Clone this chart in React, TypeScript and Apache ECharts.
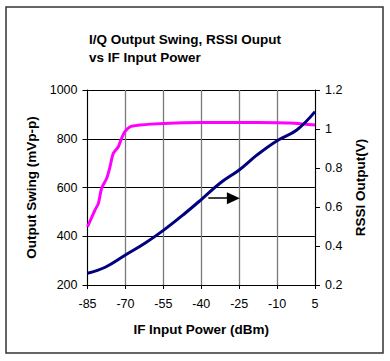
import React, { useEffect, useRef } from "react";
import * as echarts from "echarts";

const TITLE = "I/Q Output Swing, RSSI Ouput\nvs IF Input Power";
const X_NAME = "IF Input Power (dBm)";
const Y_LEFT_NAME = "Output Swing (mVp-p)";
const Y_RIGHT_NAME = "RSSI Output(V)";

const X_MIN = -85;
const X_MAX = 5;
const X_STEP = 15;

const swingX = [-85, -82, -80.7, -79.4, -77.4, -76.1, -74.8, -72.8, -71.5, -70.2, -68.2, -64.2, -60, -50, -40, -25, -10, -5, 0, 5];
const swingY = [439, 508, 535, 597, 638, 685, 740, 767, 802, 829, 849, 856, 860, 865, 867, 867, 866, 865, 861, 856];

const rssiX = [-85, -78, -70, -62.3, -55, -46.4, -40, -32.6, -25, -17.9, -10, -2.2, 5];
const rssiY = [0.26, 0.291, 0.354, 0.414, 0.48, 0.568, 0.638, 0.722, 0.79, 0.867, 0.94, 0.995, 1.089];

const arrowFrom = [-37.2, 0.645];
const arrowTo = [-27.3, 0.645];

const FONT = "'Liberation Sans', Arial, sans-serif";

export default function App() {
  const ref = useRef<HTMLDivElement>(null);
  useEffect(() => {
    document.body.style.margin = "0";
    const chart = echarts.init(ref.current!, null, { renderer: "svg" });
    const shift = (x: number) => x - X_MIN;
    chart.setOption({
      animation: false,
      backgroundColor: "#fff",
      textStyle: { fontFamily: FONT },
      title: {
        text: TITLE,
        left: 84,
        top: 25,
        textStyle: { fontFamily: FONT, fontSize: 13.5, fontWeight: "bold", color: "#000", lineHeight: 18 },
      },
      graphic: [
        {
          type: "rect",
          shape: { x: 6, y: 7, width: 377, height: 346 },
          style: { fill: "none", stroke: "#333", lineWidth: 1.5 },
          silent: true,
        },
      ],
      grid: { left: 87.5, right: 75, top: 90, bottom: 76, containLabel: false },
      xAxis: {
        type: "value",
        min: 0,
        max: X_MAX - X_MIN,
        interval: X_STEP,
        name: X_NAME,
        nameLocation: "middle",
        nameGap: 37,
        nameTextStyle: { fontFamily: FONT, fontSize: 13.5, fontWeight: "bold", color: "#000" },
        axisLine: { show: true, onZero: false, lineStyle: { color: "#000", width: 1 } },
        axisTick: { show: true, length: 4, lineStyle: { color: "#000" } },
        axisLabel: {
          margin: 12,
          fontFamily: FONT,
          fontSize: 12.5,
          color: "#000",
          formatter: (v: number) => String(v + X_MIN),
        },
        splitLine: { show: true, lineStyle: { color: "#7a7a7a", width: 1.3 } },
      },
      yAxis: [
        {
          type: "value",
          min: 200,
          max: 1000,
          interval: 200,
          position: "left",
          name: Y_LEFT_NAME,
          nameLocation: "middle",
          nameRotate: 90,
          nameGap: 44,
          nameTextStyle: { fontFamily: FONT, fontSize: 13.5, fontWeight: "bold", color: "#000" },
          axisLine: { show: true, lineStyle: { color: "#000", width: 1 } },
          axisTick: { show: true, length: 5, lineStyle: { color: "#000" } },
          axisLabel: { margin: 10, fontFamily: FONT, fontSize: 12.5, color: "#000", formatter: (v: number) => String(v) },
          splitLine: { show: true, lineStyle: { color: "#000", width: 1 } },
        },
        {
          type: "value",
          min: 0.2,
          max: 1.2,
          interval: 0.2,
          position: "right",
          name: Y_RIGHT_NAME,
          nameLocation: "middle",
          nameRotate: 90,
          nameGap: 30,
          nameTextStyle: { fontFamily: FONT, fontSize: 13.5, fontWeight: "bold", color: "#000" },
          axisLine: { show: true, lineStyle: { color: "#000", width: 1 } },
          axisTick: { show: true, length: 5, lineStyle: { color: "#000" } },
          axisLabel: { margin: 10, fontFamily: FONT, fontSize: 12.5, color: "#000" },
          splitLine: { show: false },
        },
      ],
      series: [
        {
          type: "line",
          name: "Output Swing",
          yAxisIndex: 0,
          data: swingX.map((x, i) => [shift(x), swingY[i]]),
          smooth: 0.25,
          showSymbol: false,
          lineStyle: { color: "#ff00ff", width: 3 },
          z: 3,
        },
        {
          type: "line",
          name: "RSSI",
          yAxisIndex: 1,
          data: rssiX.map((x, i) => [shift(x), rssiY[i]]),
          smooth: 0.4,
          showSymbol: false,
          lineStyle: { color: "#000080", width: 3 },
          z: 4,
          markLine: {
            silent: true,
            symbol: ["none", "triangle"],
            symbolSize: [12, 13],
            label: { show: false },
            lineStyle: { color: "#000", type: "solid", width: 1.5 },
            emphasis: { disabled: true },
            data: [
              [
                { coord: [shift(arrowFrom[0]), arrowFrom[1]] },
                { coord: [shift(arrowTo[0]), arrowTo[1]] },
              ],
            ],
          },
        },
      ],
    });
    return () => chart.dispose();
  }, []);
  return <div ref={ref} style={{ width: 390, height: 361 }} />;
}
